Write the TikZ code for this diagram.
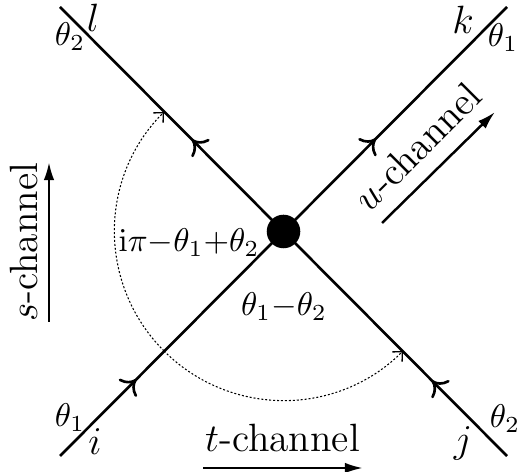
\documentclass[tikz,border=0pt]{standalone}
\usetikzlibrary{arrows.meta,decorations.markings}
\begin{document}
\begin{tikzpicture}[x=0.304pt,y=0.304pt,
  leg/.style={line width=0.8pt},
  midarrow/.style={postaction={decorate},decoration={markings,
    mark=at position #1 with {\arrow{Computer Modern Rightarrow[length=4pt,width=7.6pt,line width=0.8pt]}}}},
  dotarc/.style={line width=0.32pt,dash pattern=on 0.6pt off 0.6pt,
    -{Straight Barb[length=2.2pt,width=4.2pt,line width=0.4pt]}},
  chan/.style={line width=0.75pt,-{Latex[length=5.5pt,width=3.2pt]}},
  ext/.style={font=\fontsize{13}{15}\selectfont,inner sep=0pt},
  ang/.style={inner sep=0pt},
  chlab/.style={font=\large,inner sep=0pt,anchor=base}]
\useasboundingbox (0,0) rectangle (517,472);
% centre and leg ends
\coordinate (O) at (283.5,240.5);
\coordinate (I) at (60,16);
\coordinate (J) at (507,16);
\coordinate (K) at (507,465);
\coordinate (L) at (60,465);
% legs with arrows
\draw[leg,midarrow=0.342] (I) -- (O);
\draw[leg,midarrow=0.336] (J) -- (O);
\draw[leg,midarrow=0.414] (O) -- (K);
\draw[leg,midarrow=0.41] (O) -- (L);
\node[circle,fill=black,inner sep=0pt,minimum size=10.2pt] (B) at (O) {};
% dotted angle arcs
\path (O) ++(225:169) coordinate (A0);
\draw[dotarc] (A0) arc[start angle=225,end angle=135,radius=169];
\draw[dotarc] (A0) arc[start angle=225,end angle=315,radius=169];
% angle labels
\node[ang] (a1) at (189,229) {$\mathrm{i}\pi{-}\theta_1{+}\theta_2$};
\node[ang] (a2) at (284,165) {$\theta_1{-}\theta_2$};
% particle labels
\node[ext] (nl) at (93,454) {$l$};
\node[ext] (nk) at (463,452) {$k$};
\node[ext] (ni) at (95,30) {$i$};
\node[ext] (nj) at (463,29) {$j$};
\node[ang] (tl) at (70,435) {$\theta_2$};
\node[ang] (tk) at (503,434) {$\theta_1$};
\node[ang] (ti) at (70,54) {$\theta_1$};
\node[ang] (tj) at (505,53) {$\theta_2$};
% channel labels and arrows
\node[chlab] (tc) at (282.5,20) {$t$-channel};
\coordinate (t0) at (203,4);
\coordinate (t1) at (363,4);
\draw[chan] (t0) -- (t1);
\node[chlab,rotate=90] (sc) at (37,229.5) {$s$-channel};
\coordinate (s0) at (49,150);
\coordinate (s1) at (49,310);
\draw[chan] (s0) -- (s1);
\node[chlab,rotate=45] (uc) at (427,316) {$u$-channel};
\coordinate (u0) at (382,249);
\coordinate (u1) at (495,360);
\draw[chan] (u0) -- (u1);
\end{tikzpicture}
\end{document}
